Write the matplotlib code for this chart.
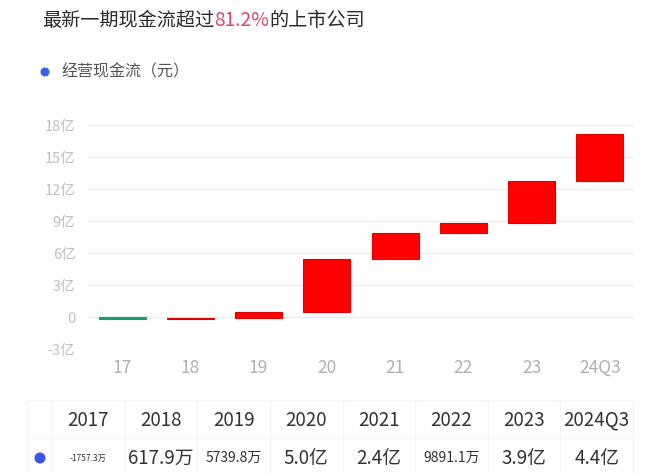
import numpy as np
import matplotlib.pyplot as plt
from matplotlib.patches import Circle

plt.rcParams['font.family'] = ['Noto Sans CJK SC', 'DejaVu Sans']

# operating cash flow per period, in 亿元
years = ['2017', '2018', '2019', '2020', '2021', '2022', '2023', '2024Q3']
short = ['17', '18', '19', '20', '21', '22', '23', '24Q3']
flow = [-0.17573, 0.06179, 0.57398, 5.0, 2.4, 0.98911, 3.9, 4.4]
flow_text = ['-1757.3万', '617.9万', '5739.8万', '5.0亿', '2.4亿', '9891.1万', '3.9亿', '4.4亿']
yticks = [-3, 0, 3, 6, 9, 12, 15, 18]
ytick_labels = ['-3亿', '0', '3亿', '6亿', '9亿', '12亿', '15亿', '18亿']

W, H = 660, 473
fig = plt.figure(figsize=(W / 100, H / 100), dpi=100)

# waterfall
ax = fig.add_axes([88 / W, 1 - 349 / H, 546 / W, 224 / H])
vals = np.array(flow)
bottoms = np.concatenate([[0], np.cumsum(vals)[:-1]])
colors = ['#ff0000' if v >= 0 else '#16a06e' for v in vals]
edges = ['#e00000' if v >= 0 else '#16a06e' for v in vals]
x = np.arange(len(vals))
ax.bar(x, vals, bottom=bottoms, width=0.69, color=colors, edgecolor=edges, linewidth=0.8, zorder=3)
ax.set_xlim(-0.5, len(vals) - 0.5)
ax.set_ylim(-3, 18)
ax.set_yticks(yticks)
ax.set_yticklabels(ytick_labels)
ax.set_xticks(x)
ax.set_xticklabels(short)
ax.grid(axis='y', color='#ececec', linewidth=1, zorder=0)
for s in ax.spines.values():
    s.set_visible(False)
ax.tick_params(axis='y', length=0, pad=9, labelsize=10.5, labelcolor='#c0c0c0')
ax.tick_params(axis='x', length=0, pad=7, labelsize=12.5, labelcolor='#b0b0b0')

# overlay in pixel coordinates for title, legend and table
ov = fig.add_axes([0, 0, 1, 1], zorder=5)
ov.set_xlim(0, W)
ov.set_ylim(H, 0)
ov.axis('off')
ov.patch.set_alpha(0)

tsize = 13.8
t1 = ov.text(42, 20, '最新一期现金流超过', fontsize=tsize, color='#2a2a2a', va='center', ha='left', fontweight='medium')
fig.canvas.draw()
inv = ov.transData.inverted()
x1 = inv.transform((t1.get_window_extent().x1, 0))[0]
t2 = ov.text(x1, 20, '81.2%', fontsize=tsize, color='#e0456a', va='center', ha='left', fontweight='medium')
fig.canvas.draw()
x2 = inv.transform((t2.get_window_extent().x1, 0))[0]
ov.text(x2, 20, '的上市公司', fontsize=tsize, color='#2a2a2a', va='center', ha='left', fontweight='medium')

ov.add_patch(Circle((45, 72), 3.8, color='#3a62e6'))
ov.text(61, 72, '经营现金流（元）', fontsize=11.5, color='#555555', va='center', ha='left')

# table
grid_c = '#f5f5f5'
col0, col1, right = 27, 52, 633
cw = (right - col1) / len(years)
top, mid, bot = 400, 438, 480
ov.plot([col0, right], [top, top], color=grid_c, lw=1)
ov.plot([col0, right], [mid, mid], color=grid_c, lw=1)
for xx in [col0, col1] + [col1 + cw * (i + 1) for i in range(len(years))]:
    ov.plot([xx, xx], [top, bot], color=grid_c, lw=1)
ov.add_patch(Circle((40, 458), 4.8, color='#3a55e8'))
for i, (yr, txt) in enumerate(zip(years, flow_text)):
    cx = col1 + cw * (i + 0.5)
    ov.text(cx, 420, yr, fontsize=13.5, color='#333333', ha='center', va='center')
    fs = 13.5 if len(txt) <= 6 else (10 if len(txt) == 7 else 6)
    ov.text(cx, 458, txt, fontsize=fs, color='#333333', ha='center', va='center')

fig.savefig('out.png', dpi=100)
